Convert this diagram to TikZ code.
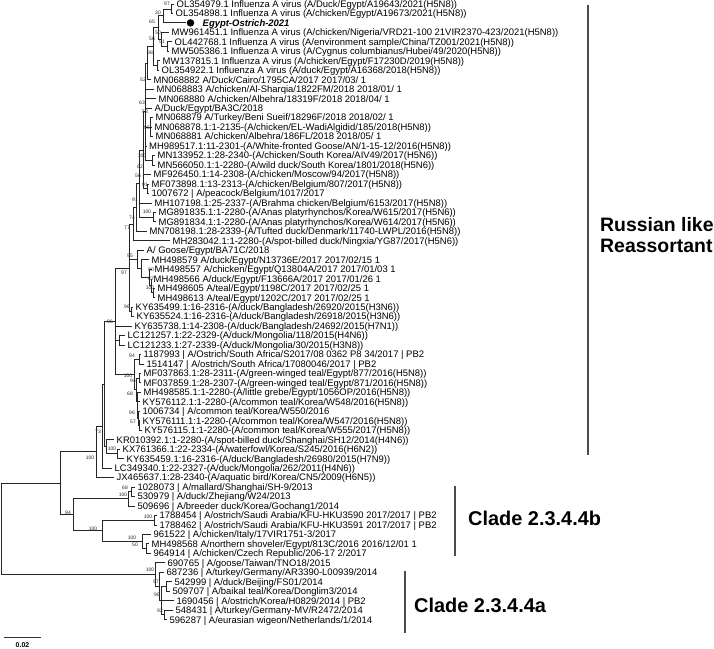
\documentclass[tikz,border=0pt]{standalone}
\usepackage{fontspec}
\setmainfont{Liberation Sans}
\tikzset{
 tree/.style={line width=0.8bp, draw=black!85},
 leaf/.style={anchor=west, inner xsep=2.5bp, inner ysep=0pt, text height=6.8bp, text depth=0bp, font=\fontsize{9.5}{10}\selectfont},
 bs/.style={font=\fontsize{5}{5}\selectfont, inner sep=0pt, text=black!85},
 bar/.style={line width=1.5bp, draw=black!70},
 clade/.style={font=\fontsize{20}{21}\selectfont\bfseries, anchor=west, inner sep=0pt, align=left},
}
\newcommand\lf[4]{\node[leaf] (#1) at (#2,#3) {#4};}
\newcommand\bsv[4]{\node[bs] (#1) at (#2,#3) {#4};}
\begin{document}
\begin{tikzpicture}[x=1bp,y=-1bp]
\useasboundingbox (0,0) rectangle (714,649);
% leaves
\lf{t1}{174}{4.5}{OL354979.1 Influenza A virus (A/Duck/Egypt/A19643/2021(H5N8))}
\lf{t2}{173}{13.5}{OL354898.1 Influenza A virus (A/chicken/Egypt/A19673/2021(H5N8))}
\coordinate (t3) at (186,22.9);
\node[circle, fill=black, inner sep=0pt, minimum size=7.5bp] (dot) at (190.5,22.9) {};
\node[leaf, font=\fontsize{9.5}{10}\selectfont\bfseries\itshape] (t3l) at (200,22.9) {Egypt-Ostrich-2021};
\lf{t4}{169}{32.4}{MW961451.1 Influenza A virus (A/chicken/Nigeria/VRD21-100 21VIR2370-423/2021(H5N8))}
\lf{t5}{172}{41.9}{OL442768.1 Influenza A virus (A/environment sample/China/TZ001/2021(H5N8))}
\lf{t6}{169}{51.4}{MW505386.1 Influenza A virus (A/Cygnus columbianus/Hubei/49/2020(H5N8))}
\lf{t7}{160}{60.8}{MW137815.1 Influenza A virus (A/chicken/Egypt/F17230D/2019(H5N8))}
\lf{t8}{159}{70.3}{OL354922.1 Influenza A virus (A/duck/Egypt/A16368/2018(H5N8))}
\lf{t9}{151}{79.8}{MN068882 A/Duck/Cairo/1795CA/2017 2017/03/ 1}
\lf{t10}{154}{89.2}{MN068883 A/chicken/Al-Sharqia/1822FM/2018 2018/01/ 1}
\lf{t11}{156}{98.7}{MN068880 A/chicken/Albehra/18319F/2018 2018/04/ 1}
\lf{t12}{152}{108.2}{A/Duck/Egypt/BA3C/2018}
\lf{t13}{153}{117.6}{MN068879 A/Turkey/Beni Sueif/18296F/2018 2018/02/ 1}
\lf{t14}{152}{127.1}{MN068878.1:1-2135-(A/chicken/EL-WadiAlgidid/185/2018(H5N8))}
\lf{t15}{153}{136.6}{MN068881 A/chicken/Albehra/186FL/2018 2018/05/ 1}
\lf{t16}{146.5}{146.1}{MH989517.1:11-2301-(A/White-fronted Goose/AN/1-15-12/2016(H5N8))}
\lf{t17}{155}{155.5}{MN133952.1:28-2340-(A/chicken/South Korea/AIV49/2017(H5N6))}
\lf{t18}{155}{165.0}{MN566050.1:1-2280-(A/wild duck/South Korea/1801/2018(H5N6))}
\lf{t19}{151}{174.5}{MF926450.1:14-2308-(A/chicken/Moscow/94/2017(H5N8))}
\lf{t20}{149}{183.9}{MF073898.1:13-2313-(A/chicken/Belgium/807/2017(H5N8))}
\lf{t21}{149}{193.4}{1007672 | A/peacock/Belgium/1017/2017}
\lf{t22}{152}{202.9}{MH107198.1:25-2337-(A/Brahma chicken/Belgium/6153/2017(H5N8))}
\lf{t23}{156}{212.3}{MG891835.1:1-2280-(A/Anas platyrhynchos/Korea/W615/2017(H5N6))}
\lf{t24}{156}{221.8}{MG891834.1:1-2280-(A/Anas platyrhynchos/Korea/W614/2017(H5N6))}
\lf{t25}{147}{231.3}{MN708198.1:28-2339-(A/Tufted duck/Denmark/11740-LWPL/2016(H5N8))}
\lf{t26}{170}{240.7}{MH283042.1:1-2280-(A/spot-billed duck/Ningxia/YG87/2017(H5N6))}
\lf{t27}{144}{250.2}{A/ Goose/Egypt/BA71C/2018}
\lf{t28}{149}{259.7}{MH498579 A/duck/Egypt/N13736E/2017 2017/02/15 1}
\lf{t29}{152}{269.2}{MH498557 A/chicken/Egypt/Q13804A/2017 2017/01/03 1}
\lf{t30}{151}{278.6}{MH498566 A/duck/Egypt/F13666A/2017 2017/01/26 1}
\lf{t31}{155}{288.1}{MH498605 A/teal/Egypt/1198C/2017 2017/02/25 1}
\lf{t32}{155}{297.6}{MH498613 A/teal/Egypt/1202C/2017 2017/02/25 1}
\lf{t33}{133}{307.0}{KY635499.1:16-2316-(A/duck/Bangladesh/26920/2015(H3N6))}
\lf{t34}{134}{316.5}{KY635524.1:16-2316-(A/duck/Bangladesh/26918/2015(H3N6))}
\lf{t35}{132}{326.0}{KY635738.1:14-2308-(A/duck/Bangladesh/24692/2015(H7N1))}
\lf{t36}{125}{335.5}{LC121257.1:22-2329-(A/duck/Mongolia/118/2015(H4N6))}
\lf{t37}{125}{344.9}{LC121233.1:27-2339-(A/duck/Mongolia/30/2015(H3N8))}
\lf{t38}{141}{354.4}{1187993 | A/Ostrich/South Africa/S2017/08 0362 P8 34/2017 | PB2}
\lf{t39}{144}{363.9}{1514147 | A/ostrich/South Africa/17080046/2017 | PB2}
\lf{t40}{141}{373.3}{MF037863.1:28-2311-(A/green-winged teal/Egypt/877/2016(H5N8))}
\lf{t41}{141}{382.8}{MF037859.1:28-2307-(A/green-winged teal/Egypt/871/2016(H5N8))}
\lf{t42}{141}{392.3}{MH498585.1:1-2280-(A/little grebe/Egypt/1056OP/2016(H5N8))}
\lf{t43}{140}{401.7}{KY576112.1:1-2280-(A/common teal/Korea/W548/2016(H5N8))}
\lf{t44}{140}{411.2}{1006734 | A/common teal/Korea/W550/2016}
\lf{t45}{140}{420.7}{KY576111.1:1-2280-(A/common teal/Korea/W547/2016(H5N8))}
\lf{t46}{142}{430.2}{KY576115.1:1-2280-(A/common teal/Korea/W555/2017(H5N8))}
\lf{t47}{114}{439.6}{KR010392.1:1-2280-(A/spot-billed duck/Shanghai/SH12/2014(H4N6))}
\lf{t48}{120}{449.1}{KX761366.1:22-2334-(A/waterfowl/Korea/S245/2016(H6N2))}
\lf{t49}{124}{458.6}{KY635459.1:16-2316-(A/duck/Bangladesh/26980/2015(H7N9))}
\lf{t50}{112}{468.0}{LC349340.1:22-2327-(A/duck/Mongolia/262/2011(H4N6))}
\lf{t51}{114}{477.5}{JX465637.1:28-2340-(A/aquatic bird/Korea/CN5/2009(H6N5))}
\lf{t52}{135}{487.0}{1028073 | A/mallard/Shanghai/SH-9/2013}
\lf{t53}{135}{496.4}{530979 | A/duck/Zhejiang/W24/2013}
\lf{t54}{135}{505.9}{509696 | A/breeder duck/Korea/Gochang1/2014}
\lf{t55}{157}{515.4}{1788454 | A/ostrich/Saudi Arabia/KFU-HKU3590 2017/2017 | PB2}
\lf{t56}{157}{524.9}{1788462 | A/ostrich/Saudi Arabia/KFU-HKU3591 2017/2017 | PB2}
\lf{t57}{151}{534.3}{961522 | A/chicken/Italy/17VIR1751-3/2017}
\lf{t58}{149}{543.8}{MH498568 A/northern shoveler/Egypt/813C/2016 2016/12/01 1}
\lf{t59}{151}{553.3}{964914 | A/chicken/Czech Republic/206-17 2/2017}
\lf{t60}{165}{562.7}{690765 | A/goose/Taiwan/TNO18/2015}
\lf{t61}{164}{572.2}{687236 | A/turkey/Germany/AR3390-L00939/2014}
\lf{t62}{172}{581.7}{542999 | A/duck/Beijing/FS01/2014}
\lf{t63}{170}{591.1}{509707 | A/baikal teal/Korea/Donglim3/2014}
\lf{t64}{174}{600.6}{1690456 | A/ostrich/Korea/H0829/2014 | PB2}
\lf{t65}{173}{610.1}{548431 | A/turkey/Germany-MV/R2472/2014}
\lf{t66}{167}{619.6}{596287 | A/eurasian wigeon/Netherlands/1/2014}
% internal nodes
\coordinate (N1) at (171,9);
\coordinate (N2) at (163,15.9);
\coordinate (N5) at (167,46.65);
\coordinate (N4) at (161,39.5);
\coordinate (N3) at (158,27.7);
\coordinate (N6) at (157,65.55);
\coordinate (N7) at (153,46.6);
\coordinate (N8) at (147,63.2);
\coordinate (NB) at (150,127.1);
\coordinate (NK) at (152,160.25);
\coordinate (S1) at (145,111.7);
\coordinate (NM) at (147,188.65);
\coordinate (S2) at (143,150.2);
\coordinate (NG) at (153,217.05);
\coordinate (N91) at (139,183.6);
\coordinate (N74) at (136,207.45);
\coordinate (N77) at (133,224.1);
\coordinate (NE4) at (153,292.85);
\coordinate (NE3) at (151,285.7);
\coordinate (NE2b) at (149,277.45);
\coordinate (NE2) at (141,268.6);
\coordinate (NE) at (137,259.4);
\coordinate (NB2) at (131,311.75);
\coordinate (N97) at (129,267.9);
\coordinate (NMo) at (119,340.2);
\coordinate (NSA) at (139,359.15);
\coordinate (NEg) at (139,378.05);
\coordinate (NL4) at (139,425.45);
\coordinate (NL3) at (138,418.3);
\coordinate (NL2) at (137.5,410);
\coordinate (NL1) at (137,401.15);
\coordinate (NX) at (136,389.6);
\coordinate (NSA2) at (134,374.4);
\coordinate (U96) at (115,321.15);
\coordinate (KX) at (117,453.85);
\coordinate (N73) at (106,446.7);
\coordinate (B3) at (104,383.9);
\coordinate (B2) at (102,425.95);
\coordinate (B) at (96,451.7);
\coordinate (C1a) at (131,491.7);
\coordinate (C1) at (128,498.8);
\coordinate (D1) at (154,520.15);
\coordinate (F) at (146,548.55);
\coordinate (E) at (142,541.4);
\coordinate (D) at (102,530.8);
\coordinate (C) at (73,514.8);
\coordinate (A) at (60,483.25);
\coordinate (K) at (166,586.4);
\coordinate (L) at (164,614.85);
\coordinate (I) at (161,600.6);
\coordinate (H) at (159,586.4);
\coordinate (G) at (155,574.55);
\coordinate (R) at (1,528.9);
% branches
\draw[tree] (N1) |- (t1.west) (N1) |- (t2.west);
\draw[tree] (N2) |- (N1) (N2) |- (t3);
\draw[tree] (N5) |- (t5.west) (N5) |- (t6.west);
\draw[tree] (N4) |- (t4.west) (N4) |- (N5);
\draw[tree] (N3) |- (N2) (N3) |- (N4);
\draw[tree] (N6) |- (t7.west) (N6) |- (t8.west);
\draw[tree] (N7) |- (N3) (N7) |- (N6);
\draw[tree] (N8) |- (N7) (N8) |- (t9.west);
\draw[tree] (NB) |- (t13.west) (NB) |- (t14.west) (NB) |- (t15.west);
\draw[tree] (NK) |- (t17.west) (NK) |- (t18.west);
\draw[tree] (S1) |- (N8) (S1) |- (t10.west) (S1) |- (t11.west) (S1) |- (t12.west) (S1) |- (NB) (S1) |- (t16.west) (S1) |- (NK);
\draw[tree] (NM) |- (t20.west) (NM) |- (t21.west);
\draw[tree] (S2) |- (S1) (S2) |- (t19.west) (S2) |- (NM);
\draw[tree] (NG) |- (t23.west) (NG) |- (t24.west);
\draw[tree] (N91) |- (S2) (N91) |- (t22.west) (N91) |- (NG);
\draw[tree] (N74) |- (N91) (N74) |- (t25.west);
\draw[tree] (N77) |- (N74) (N77) |- (t26.west);
\draw[tree] (NE4) |- (t31.west) (NE4) |- (t32.west);
\draw[tree] (NE3) |- (t30.west) (NE3) |- (NE4);
\draw[tree] (NE2b) |- (t29.west) (NE2b) |- (NE3);
\draw[tree] (NE2) |- (t28.west) (NE2) |- (NE2b);
\draw[tree] (NE) |- (t27.west) (NE) |- (NE2);
\draw[tree] (NB2) |- (t33.west) (NB2) |- (t34.west);
\draw[tree] (N97) |- (N77) (N97) |- (NE) (N97) |- (NB2);
\draw[tree] (NMo) |- (t36.west) (NMo) |- (t37.west);
\draw[tree] (NSA) |- (t38.west) (NSA) |- (t39.west);
\draw[tree] (NEg) |- (t40.west) (NEg) |- (t41.west);
\draw[tree] (NL4) |- (t45.west) (NL4) |- (t46.west);
\draw[tree] (NL3) |- (t44.west) (NL3) |- (NL4);
\draw[tree] (NL2) |- (t43.west) (NL2) |- (NL3);
\draw[tree] (NL1) |- (t42.west) (NL1) |- (NL2);
\draw[tree] (NX) |- (NEg) (NX) |- (NL1);
\draw[tree] (NSA2) |- (NSA) (NSA2) |- (NX);
\draw[tree] (U96) |- (N97) (U96) |- (t35.west) (U96) |- (NMo) (U96) |- (NSA2);
\draw[tree] (KX) |- (t48.west) (KX) |- (t49.west);
\draw[tree] (N73) |- (t47.west) (N73) |- (KX);
\draw[tree] (B3) |- (U96) (B3) |- (N73);
\draw[tree] (B2) |- (B3) (B2) |- (t50.west);
\draw[tree] (B) |- (B2) (B) |- (t51.west);
\draw[tree] (C1a) |- (t52.west) (C1a) |- (t53.west);
\draw[tree] (C1) |- (C1a) (C1) |- (t54.west);
\draw[tree] (D1) |- (t55.west) (D1) |- (t56.west);
\draw[tree] (F) |- (t58.west) (F) |- (t59.west);
\draw[tree] (E) |- (t57.west) (E) |- (F);
\draw[tree] (D) |- (D1) (D) |- (E);
\draw[tree] (C) |- (C1) (C) |- (D);
\draw[tree] (A) |- (B) (A) |- (C);
\draw[tree] (K) |- (t62.west) (K) |- (t63.west);
\draw[tree] (L) |- (t65.west) (L) |- (t66.west);
\draw[tree] (I) |- (K) (I) |- (t64.west) (I) |- (L);
\draw[tree] (H) |- (t61.west) (H) |- (I);
\draw[tree] (G) |- (t60.west) (G) |- (H);
\draw[tree] (R) |- (A) (R) |- (G);
% bootstrap values
\bsv{b1}{167}{3.5}{97}
\bsv{b2}{158}{13}{30}
\bsv{b3}{152}{22}{65}
\bsv{b4}{158}{33}{50}
\bsv{b5}{152}{39}{56}
\bsv{b6}{162}{42}{51}
\bsv{b7}{150}{53}{98}
\bsv{b8}{143}{80}{52}
\bsv{b9}{142}{103}{63}
\bsv{b10}{145}{112}{58}
\bsv{b11}{147}{128}{95}
\bsv{b12}{142}{156}{100}
\bsv{b13}{140}{167}{62}
\bsv{b14}{138}{176}{56}
\bsv{b15}{145}{185}{91}
\bsv{b16}{135}{200}{91}
\bsv{b17}{147}{212}{100}
\bsv{b18}{132}{218}{74}
\bsv{b19}{127}{228}{77}
\bsv{b20}{130}{256}{95}
\bsv{b21}{124}{273}{97}
\bsv{b22}{151}{270}{90}
\bsv{b23}{151}{279}{87}
\bsv{b24}{150}{288}{100}
\bsv{b25}{127}{307}{96}
\bsv{b26}{110}{322}{96}
\bsv{b27}{132}{356}{94}
\bsv{b28}{128}{376}{100}
\bsv{b29}{133}{381}{94}
\bsv{b30}{130}{394}{68}
\bsv{b31}{132}{413}{96}
\bsv{b32}{133}{422}{57}
\bsv{b33}{98}{432}{73}
\bsv{b34}{112}{449}{100}
\bsv{b35}{90}{458}{100}
\bsv{b36}{125}{488}{68}
\bsv{b37}{123}{495}{100}
\bsv{b38}{68}{513}{94}
\bsv{b39}{148}{517}{100}
\bsv{b40}{93}{529}{100}
\bsv{b41}{132}{538}{100}
\bsv{b42}{135}{545}{50}
\bsv{b43}{150}{570}{100}
\bsv{b44}{156}{582}{97}
\bsv{b45}{157}{595}{96}
\bsv{b46}{160}{611}{92}
% clade bars and labels
\coordinate (rb1) at (588,5); \coordinate (rb2) at (588,455);
\draw[bar] (rb1) -- (rb2);
\node[clade, font=\fontsize{19.5}{21}\selectfont\bfseries] (rl) at (600,235.5) {Russian like\\Reassortant};
\coordinate (cb1) at (455,486); \coordinate (cb2) at (455,556);
\draw[bar] (cb1) -- (cb2);
\node[clade] (cbl) at (468,518) {Clade 2.3.4.4b};
\coordinate (ca1) at (405,571); \coordinate (ca2) at (405,633);
\draw[bar] (ca1) -- (ca2);
\node[clade] (cal) at (414,605) {Clade 2.3.4.4a};
% scale bar
\coordinate (sb1) at (4,637.5); \coordinate (sb2) at (41,637.5);
\draw[line width=0.9bp, draw=black!80] (sb1) -- (sb2);
\node[font=\fontsize{7}{7}\selectfont\bfseries, inner sep=0pt] (sbl) at (22.5,645.5) {0.02};
\end{tikzpicture}
\end{document}
